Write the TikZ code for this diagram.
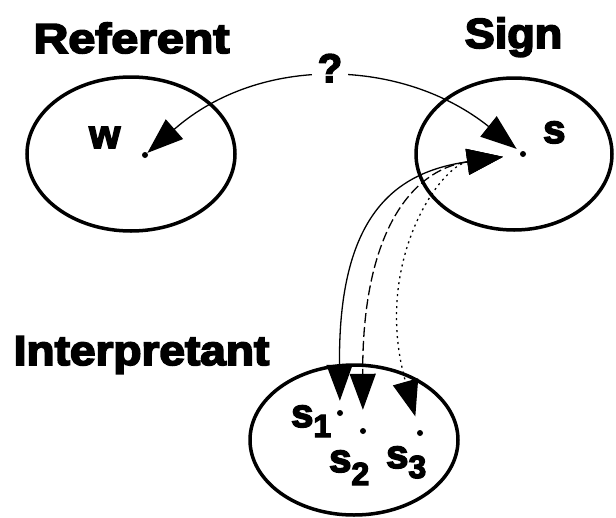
\documentclass[tikz,border=0pt]{standalone}
\usepackage{fontspec}
\setmainfont{Liberation Sans}[BoldFeatures={FakeBold=4}]
\usetikzlibrary{arrows.meta,shapes.geometric}
\begin{document}
\begin{tikzpicture}[x=1pt,y=-1pt,
  region/.style={draw, ellipse, line width=3.5pt, inner sep=0pt},
  dot/.style={circle, fill, inner sep=0pt, minimum size=6pt},
  title/.style={font=\fontsize{42pt}{42pt}\selectfont\bfseries, inner sep=0pt, anchor=base},
  lbl/.style={font=\fontsize{40pt}{40pt}\selectfont\bfseries, inner sep=0pt, anchor=base west},
  conn/.style={line width=1.3pt},
  dashline/.style={conn, dash pattern=on 10pt off 4pt},
  dotline/.style={conn, dash pattern=on 2pt off 4pt},
  bigtip/.tip={Triangle[length=36pt,width=26pt]}
]
\useasboundingbox (0,0) rectangle (616,517);

% regions
\node[region, minimum width=208pt, minimum height=154pt] (referent) at (131,154) {};
\node[region, minimum width=196pt, minimum height=152pt] (sign) at (514,154) {};
\node[region, minimum width=208pt, minimum height=150pt] (interp) at (354,440) {};

% titles
\node[title] (tref) at (131.5,53) {\scalebox{1.15}[1]{Referent}};
\node[title] (tsign) at (513.5,48) {\scalebox{1.07}[1]{Sign}};
\node[title] (tint) at (141.5,365) {\scalebox{1.095}[1]{Interpretant}};

% points
\node[dot] (w) at (145,155) {};
\node[dot] (s) at (523,154) {};
\node[dot] (s1) at (340,413) {};
\node[dot] (s2) at (363,431) {};
\node[dot] (s3) at (420,433) {};

% point labels
\node[lbl] (lw) at (89,148) {w};
\node[lbl] (ls) at (543,143) {s};
\node[lbl] (ls1) at (291,427) {s\lower10pt\hbox{\fontsize{32pt}{32pt}\selectfont 1}};
\node[lbl] (ls2) at (329,472) {s\lower13pt\hbox{\fontsize{32pt}{32pt}\selectfont 2}};
\node[lbl] (ls3) at (386,468) {s\lower10pt\hbox{\fontsize{32pt}{32pt}\selectfont 3}};

% referent <-> sign
\draw[conn, bigtip-bigtip, shorten >=5pt] (w) .. controls (260,54) and (403,58) .. (s);
\node[font=\fontsize{40pt}{40pt}\selectfont\bfseries, fill=white, inner xsep=6pt, inner ysep=2pt, anchor=base] (q) at (330,82) {?};

% sign <-> interpretants
\draw[conn, bigtip-bigtip, shorten <=17pt, shorten >=9pt] (s) .. controls (395,172) and (338,215) .. (s1);
\draw[dashline, bigtip-bigtip, shorten <=17pt, shorten >=18pt] (s) .. controls (410,170) and (362,235) .. (s2);
\draw[dotline, bigtip-bigtip, shorten <=17pt, shorten >=14pt] (s) .. controls (440,165.7) and (372,263) .. (s3);
\end{tikzpicture}
\end{document}
